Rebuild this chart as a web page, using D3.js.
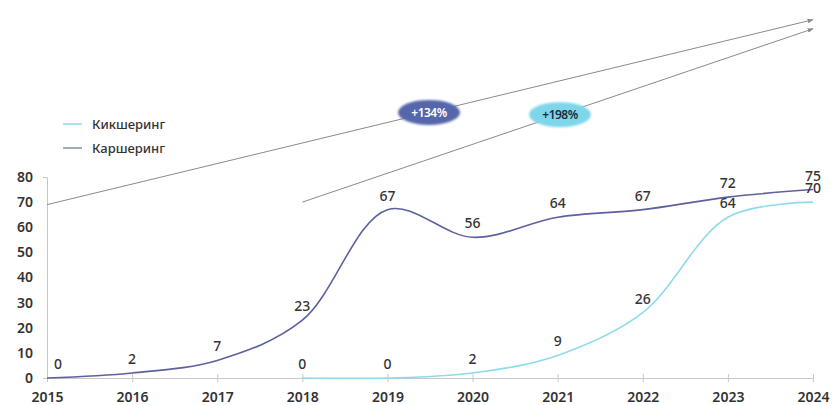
<!DOCTYPE html>
<html><head><meta charset="utf-8">
<script src="https://cdn.jsdelivr.net/npm/d3@7"></script>
<style>
body{margin:0;background:#fff;}
text{font-family:"Noto Sans",sans-serif;}
</style></head>
<body><svg id="c" width="833" height="405"></svg>
<script>
const years = [2015,2016,2017,2018,2019,2020,2021,2022,2023,2024];
const carsharing = [0,2,7,23,67,56,64,67,72,75];
const kicksharingYears = [2018,2019,2020,2021,2022,2023,2024];
const kicksharing = [0,0,2,9,26,64,70];
const yTicks = [0,10,20,30,40,50,60,70,80];
const seriesNames = ["Кикшеринг","Каршеринг"];
const growthLabels = ["+134%","+198%"];
// annotation arrows: [startYear,startValue,endYear,endValue]
const arrowCar = [2015,69,2024,142.6];
const arrowKick = [2018,70,2024,139];

const colCar = "#5d619f", colKick = "#8edbe9";
const svg = d3.select("#c");
const x = d3.scaleLinear().domain([2015,2024]).range([47,813]);
const y = d3.scaleLinear().domain([0,80]).range([378,177]);

// axes
const gx = svg.append("g").attr("transform","translate(0,378)")
  .call(d3.axisBottom(x).tickValues(years).tickFormat(d3.format("d")).tickSize(5).tickSizeOuter(0));
gx.select(".domain").attr("stroke","#c8c8c8");
gx.selectAll(".tick line").attr("stroke","#c8c8c8").attr("y1",-4).attr("y2",4);
gx.selectAll(".tick text").attr("y",14).attr("font-size",14).attr("font-weight",600).attr("fill","#333");

const gy = svg.append("g").attr("transform","translate(47,0)")
  .call(d3.axisLeft(y).tickValues(yTicks).tickSize(0).tickSizeOuter(4).tickPadding(14));
gy.select(".domain").attr("stroke","#c8c8c8");
gy.selectAll(".tick text").attr("font-size",14).attr("font-weight",600).attr("fill","#333");

// annotation arrows
const defs = svg.append("defs");
defs.append("marker").attr("id","ah").attr("viewBox","0 0 10 10").attr("refX",9).attr("refY",5)
  .attr("markerWidth",6).attr("markerHeight",6).attr("orient","auto")
  .append("path").attr("d","M0,1L10,5L0,9Z").attr("fill","#8a8a8a");
const blur = defs.append("filter").attr("id","soft").attr("x","-30%").attr("y","-50%").attr("width","160%").attr("height","200%");
blur.append("feGaussianBlur").attr("stdDeviation",1.2);

function arrow(a){
  const x1=x(a[0]), y1=y(a[1]), x2=x(a[2]), y2=y(a[3]);
  svg.append("line").attr("x1",x1).attr("y1",y1).attr("x2",x2).attr("y2",y2)
    .attr("stroke","#8a8a8a").attr("stroke-width",1).attr("marker-end","url(#ah)");
  return {x1,y1,x2,y2};
}
const a1 = arrow(arrowCar);
const a2 = arrow(arrowKick);
function badge(a, t, fill, tcol, cx){
  const cy = a.y1 + (cx-a.x1)*(a.y2-a.y1)/(a.x2-a.x1);
  svg.append("ellipse").attr("cx",cx).attr("cy",cy).attr("rx",31).attr("ry",12.5)
    .attr("fill",fill).attr("filter","url(#soft)");
  svg.append("text").attr("x",cx).attr("y",cy+4.5).attr("text-anchor","middle")
    .attr("font-size",12).attr("font-weight",600).attr("fill",tcol).attr("letter-spacing",-0.5).text(t);
}
badge(a1, growthLabels[0], "#5566aa", "#fff", 429);
badge(a2, growthLabels[1], "#7fd6ea", "#1b2a3a", 560);

// lines
const line = d3.line().x(d=>x(d[0])).y(d=>y(d[1])).curve(d3.curveCatmullRom.alpha(0.5));
const carData = years.map((yr,i)=>[yr,carsharing[i]]);
const kickData = kicksharingYears.map((yr,i)=>[yr,kicksharing[i]]);
svg.append("path").datum(kickData).attr("d",line).attr("fill","none").attr("stroke",colKick).attr("stroke-width",1.6);
svg.append("path").datum(carData).attr("d",line).attr("fill","none").attr("stroke",colCar).attr("stroke-width",1.6);

// labels
function labels(data){
  svg.append("g").selectAll("text").data(data).join("text")
    .attr("x",(d,i)=>x(d[0]) + (d[0]===2015 ? 11 : 0)).attr("y",d=>y(d[1])-9).attr("text-anchor","middle")
    .attr("font-size",14).attr("font-weight",500).attr("fill","#333").text(d=>d[1]);
}
labels(carData);
labels(kickData);

// legend
const leg = svg.append("g");
[[colKick,124],[colCar,148]].forEach((c,i)=>{
  leg.append("line").attr("x1",63).attr("x2",82).attr("y1",c[1]).attr("y2",c[1]).attr("stroke",i===0?c[0]:"#8a8ca8").attr("stroke-width",1.5);
  leg.append("text").attr("x",92).attr("y",c[1]+4.5).attr("font-size",13).attr("font-weight",500).attr("fill","#333").text(seriesNames[i]);
});
</script></body></html>
